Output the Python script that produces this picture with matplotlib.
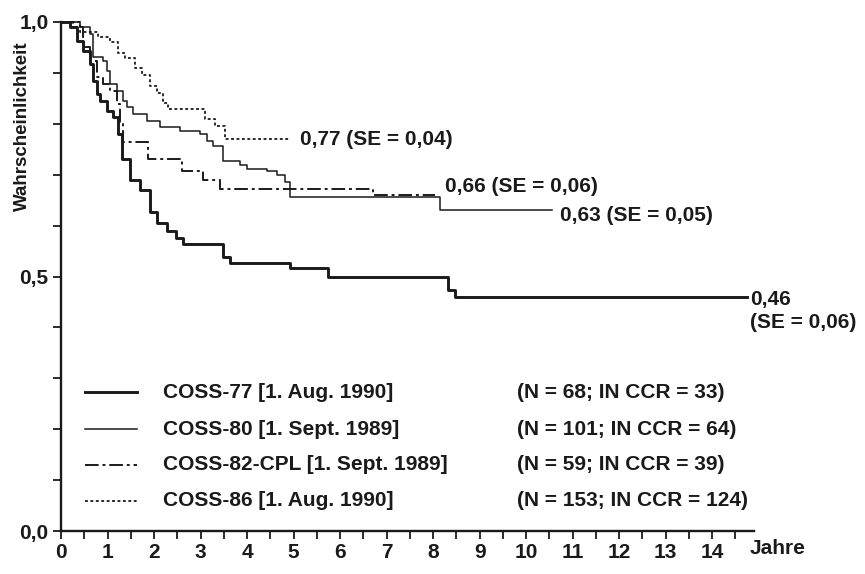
import numpy as np
import matplotlib
matplotlib.use("Agg")
import matplotlib.pyplot as plt
from matplotlib.lines import Line2D

plt.rcParams['font.family'] = ['Liberation Sans', 'DejaVu Sans']

# --- Kaplan-Meier step data (time in years, survival after each step) ---
t77 = [0, 0.19, 0.34, 0.47, 0.62, 0.69, 0.77, 0.84, 0.99, 1.12, 1.23, 1.31,
       1.48, 1.70, 1.91, 2.06, 2.28, 2.47, 2.62, 3.48, 3.63, 4.92, 5.74,
       8.32, 8.47, 14.75]
s77 = [1.0, 0.99, 0.963, 0.943, 0.917, 0.884, 0.858, 0.844, 0.825, 0.813,
       0.78, 0.73, 0.69, 0.67, 0.626, 0.605, 0.59, 0.575, 0.563, 0.539,
       0.527, 0.516, 0.50, 0.474, 0.46, 0.46]

t80 = [0, 0.41, 0.62, 0.69, 0.90, 0.99, 1.05, 1.20, 1.33, 1.42, 1.55, 1.85,
       2.13, 2.56, 2.99, 3.14, 3.27, 3.48, 3.85, 4.00, 4.43, 4.65, 4.82,
       4.92, 8.15, 10.56]
s80 = [1.0, 0.99, 0.976, 0.931, 0.923, 0.903, 0.878, 0.864, 0.844, 0.833,
       0.819, 0.805, 0.793, 0.785, 0.779, 0.766, 0.756, 0.726, 0.72, 0.711,
       0.707, 0.70, 0.685, 0.657, 0.63, 0.63]

t82 = [0, 0.26, 0.47, 0.62, 0.77, 0.90, 1.05, 1.20, 1.27, 1.33, 1.87, 2.60,
       3.05, 3.42, 6.71, 8.04]
s82 = [1.0, 0.99, 0.95, 0.923, 0.892, 0.878, 0.864, 0.839, 0.80, 0.764,
       0.73, 0.707, 0.69, 0.671, 0.66, 0.66]

t86 = [0, 0.41, 0.80, 1.05, 1.23, 1.38, 1.59, 1.74, 1.91, 2.06, 2.19, 2.30,
       3.10, 3.31, 3.53, 4.92]
s86 = [1.0, 0.98, 0.97, 0.96, 0.94, 0.93, 0.91, 0.895, 0.875, 0.86, 0.84,
       0.829, 0.81, 0.795, 0.77, 0.77]

labels = ["COSS-77 [1. Aug. 1990]", "COSS-80 [1. Sept. 1989]",
          "COSS-82-CPL [1. Sept. 1989]", "COSS-86 [1. Aug. 1990]"]
counts = ["(N = 68; IN CCR = 33)", "(N = 101; IN CCR = 64)",
          "(N = 59; IN CCR = 39)", "(N = 153; IN CCR = 124)"]
end_labels = ["0,46\n(SE = 0,06)", "0,63 (SE = 0,05)",
              "0,66 (SE = 0,06)", "0,77 (SE = 0,04)"]

styles = [dict(lw=2.1, ls="-"),
          dict(lw=1.1, ls="-"),
          dict(lw=1.4, ls=(0, (7, 2, 1.5, 2))),
          dict(lw=1.3, ls=(0, (1.6, 1.4)))]
INK = "#1a1a1a"
FS = 15
FW = "bold"

fig = plt.figure(figsize=(8.65, 5.74), dpi=100)
ax = fig.add_axes([61/865, 43/574, 693/865, 509/574])

series = [(t77, s77), (t80, s80), (t82, s82), (t86, s86)]
for (t, s), st in zip(series, styles):
    ax.step(t, s, where="post", color=INK, clip_on=False, **st)

txt = dict(fontsize=FS, color=INK, fontweight=FW)
# end-of-curve annotations
ax.text(14.82, 0.432, end_labels[0], va="center", ha="left", linespacing=1.3, **txt)
ax.text(10.73, 0.62, end_labels[1], va="center", **txt)
ax.text(8.26, 0.677, end_labels[2], va="center", **txt)
ax.text(5.14, 0.770, end_labels[3], va="center", **txt)

# legend block
rows_y = [0.273, 0.200, 0.130, 0.059]
for y, st, lab, cnt in zip(rows_y, styles, labels, counts):
    ax.add_line(Line2D([0.035, 0.110], [y, y], transform=ax.transAxes,
                       color=INK, **st))
    ax.text(0.147, y, lab, transform=ax.transAxes, va="center", **txt)
    ax.text(0.658, y, cnt, transform=ax.transAxes, va="center", **txt)

ax.set_xlim(0, 14.9)
ax.set_ylim(0, 1.0)
ax.set_xticks(np.arange(0, 15, 1))
ax.set_xticks(np.arange(0.5, 15, 1), minor=True)
ax.set_xticklabels([str(i) for i in range(15)], fontweight=FW)
ax.set_yticks([0, 0.5, 1.0])
ax.set_yticklabels(["0,0", "0,5", "1,0"], fontweight=FW)
ax.set_yticks(np.arange(0.1, 1.0, 0.1), minor=True)
ax.tick_params(which="both", direction="out", length=6, width=1.3, color=INK,
               labelsize=FS, labelcolor=INK)
ax.tick_params(axis="x", pad=3)
ax.tick_params(axis="y", pad=3)
for side in ["top", "right"]:
    ax.spines[side].set_visible(False)
for side in ["left", "bottom"]:
    ax.spines[side].set_linewidth(1.7)
    ax.spines[side].set_color(INK)

fig.text(806/865, 1 - 549/574, "Jahre", ha="right", va="center", **txt)
fig.text(22/865, 1 - 126/574, "Wahrscheinlichkeit", fontsize=13.5, color=INK,
         fontweight=FW, rotation=90, ha="center", va="center")

fig.savefig("out.png", dpi=100)
